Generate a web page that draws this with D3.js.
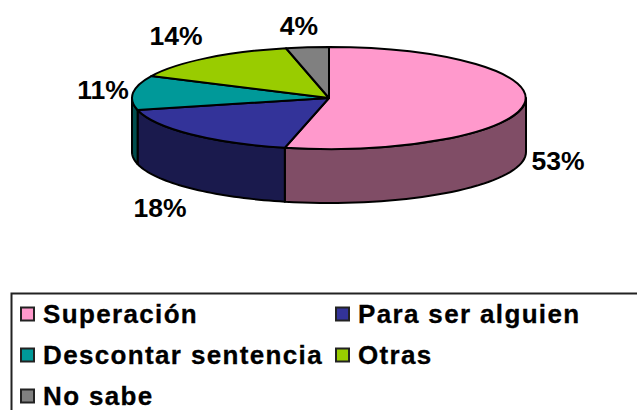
<!DOCTYPE html>
<html><head><meta charset="utf-8">
<script src="https://cdn.jsdelivr.net/npm/d3@7"></script>
<style>html,body{margin:0;padding:0;background:#fff;overflow:hidden}
text{font-family:"Liberation Sans",Arial,sans-serif;font-weight:bold;fill:#000}</style>
</head><body><svg id="c" width="637" height="410"></svg>
<script>
const categories = ["Superación","Para ser alguien","Descontar sentencia","Otras","No sabe"];
const sliceShares = [53.6,17.6,10.9,14.4,3.5];
const percentLabels = ["53%","18%","11%","14%","4%"];
const topColors = ["#FF99CC","#333399","#009999","#99CC00","#808080"];
const sideColors = ["#804D66","#1A1A4D","#004D4D","#4D6600","#404040"];

const W=637,H=410,cx=329,cy=98,rx=197,ry=51,depth=54;
const svg=d3.select("#c");
const arcs=d3.pie().sort(null).value(d=>d)(sliceShares);
const ex=d3.scaleLinear().domain([-1,1]).range([cx-rx,cx+rx]);
const ey=d3.scaleLinear().domain([-1,1]).range([cy-ry,cy+ry]);
const px=a=>ex(Math.sin(a)), py=a=>ey(-Math.cos(a));

// side walls: only the front half of the ellipse is visible
const wall=d3.line();
arcs.forEach((d,i)=>{
  const a0=Math.max(d.startAngle,Math.PI/2), a1=Math.min(d.endAngle,Math.PI*1.5);
  if(a1<=a0) return;
  const angles=d3.range(0,41).map(k=>a0+(a1-a0)*k/40);
  const up=angles.map(a=>[px(a),py(a)]);
  const down=angles.slice().reverse().map(a=>[px(a),py(a)+depth]);
  svg.append("path").attr("d",wall(up.concat(down))+"Z")
    .attr("fill",sideColors[i]).attr("stroke","#000").attr("stroke-width",2).attr("stroke-linejoin","round");
});
// top face
const arcGen=d3.arc().innerRadius(0).outerRadius(1);
svg.append("g").attr("transform",`translate(${cx},${cy}) scale(${rx},${ry})`)
  .selectAll("path").data(arcs).join("path")
  .attr("d",arcGen)
  .attr("fill",(d,i)=>topColors[i]).attr("stroke","#000")
  .attr("stroke-width",2).attr("vector-effect","non-scaling-stroke").attr("stroke-linejoin","round");

// percent labels
const labelX=d3.scaleOrdinal().domain(categories).range([558,160,103,176,299]);
const labelY=d3.scaleOrdinal().domain(categories).range([170,217,99,45,35]);
svg.append("g").selectAll("text").data(categories).join("text")
  .attr("x",d=>labelX(d)).attr("y",d=>labelY(d))
  .attr("text-anchor","middle").attr("font-size",26.5)
  .text((d,i)=>percentLabels[i]);

// legend
svg.append("rect").attr("x",11.5).attr("y",293.5).attr("width",640).attr("height",130)
  .attr("fill","#fff").attr("stroke","#222").attr("stroke-width",2);
const colX=d3.scaleOrdinal().domain([0,1]).range([21,336]);
const rowY=d3.scaleOrdinal().domain([0,1,2]).range([314,355,396]);
const lg=svg.append("g").selectAll("g").data(categories).join("g")
  .attr("transform",(d,i)=>`translate(${colX(i%2)},${rowY(Math.floor(i/2))})`);
lg.append("rect").attr("x",0).attr("y",-6.5).attr("width",13).attr("height",13)
  .attr("fill",(d,i)=>topColors[i]).attr("stroke","#222").attr("stroke-width",2);
lg.append("text").attr("x",22).attr("y",9).attr("font-size",26).attr("letter-spacing",1.35)
  .attr("stroke","#000").attr("stroke-width",0.3).text(d=>d);
</script></body></html>
